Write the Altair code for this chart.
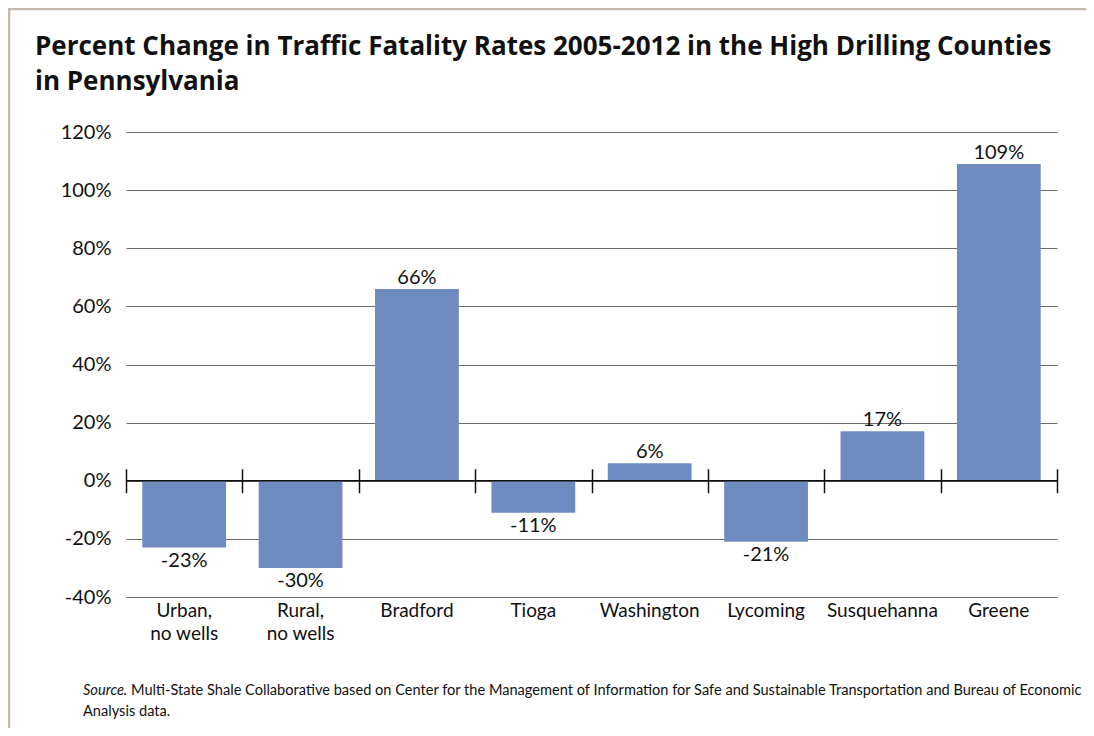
import altair as alt
import pandas as pd

categories = ["Urban,\nno wells", "Rural,\nno wells", "Bradford", "Tioga",
              "Washington", "Lycoming", "Susquehanna", "Greene"]
values = [-23, -30, 66, -11, 6, -21, 17, 109]
y_ticks = [-40, -20, 0, 20, 40, 60, 80, 100, 120]

title_lines = ["Percent Change in Traffic Fatality Rates 2005-2012 in the High Drilling Counties",
               "in Pennsylvania"]
source_lead = "Source."
source_lines = ["Multi-State Shale Collaborative based on Center for the Management of Information for Safe and Sustainable Transportation and Bureau of Economic",
                "Analysis data."]

df = pd.DataFrame({"cat": categories, "val": values})
df["label"] = df["val"].astype(str) + "%"

FONT = "Lato"
BAR = "#6E8BC0"
W, H = 931, 465
ZERO_FROM_BOTTOM = H * 40 / 160

xscale = alt.Scale(paddingInner=0.28, paddingOuter=0.14)
yscale = alt.Scale(domain=[-40, 120], nice=False, zero=False)

base = alt.Chart(df)

bars = base.mark_bar(color=BAR).encode(
    x=alt.X("cat:N", sort=categories, scale=xscale,
            axis=alt.Axis(title=None, labelExpr="split(datum.label, '\\n')",
                          ticks=False, domain=False, labelAngle=0,
                          labelFont=FONT, labelFontSize=19, labelColor="#111",
                          labelPadding=4, labelLineHeight=23, labelBaseline="top")),
    y=alt.Y("val:Q", scale=yscale,
            axis=alt.Axis(title=None, values=y_ticks, labelExpr="datum.value + '%'",
                          grid=True, gridColor="#6b6b6b", gridWidth=1,
                          domain=False, ticks=False, labelPadding=15,
                          labelFont=FONT, labelFontSize=20, labelColor="#111")),
)

tick_layer = base.mark_bar(opacity=0).encode(
    x=alt.X("cat:N", sort=categories,
            scale=alt.Scale(paddingInner=0, paddingOuter=0),
            axis=alt.Axis(title=None, orient="bottom", labels=False, domain=False,
                          ticks=True, tickBand="extent", tickSize=24,
                          tickColor="#111", tickWidth=1.5,
                          offset=-(ZERO_FROM_BOTTOM + 12))),
    y=alt.Y("val:Q", scale=yscale),
)

zero = alt.Chart(alt.Data(values=[{}])).mark_rule(color="#111", strokeWidth=1.6).encode(
    y=alt.datum(0)
)

text_x = alt.X("cat:N", sort=categories, axis=None,
               scale=alt.Scale(type="point", domain=categories, padding=0.5))

pos_text = base.transform_filter("datum.val >= 0").mark_text(
    baseline="alphabetic", dy=-5, font=FONT, fontSize=20, color="#111"
).encode(x=text_x, y="val:Q", text="label:N")

neg_text = base.transform_filter("datum.val < 0").mark_text(
    baseline="alphabetic", dy=19, font=FONT, fontSize=20, color="#111"
).encode(x=text_x, y="val:Q", text="label:N")

one = alt.Data(values=[{}])
TFONT = "Open Sans"
title1 = alt.Chart(one).mark_text(align="left", baseline="alphabetic", font=TFONT,
                                  fontSize=26, fontWeight="bold", color="#111").encode(
    x=alt.value(-91), y=alt.value(-77), text=alt.value(title_lines[0]))
title2 = alt.Chart(one).mark_text(align="left", baseline="alphabetic", font=TFONT,
                                  fontSize=26, fontWeight="bold", color="#111").encode(
    x=alt.value(-91), y=alt.value(-42), text=alt.value(title_lines[1]))

src0 = alt.Chart(one).mark_text(align="left", baseline="alphabetic", font=FONT,
                                fontSize=14.6, fontStyle="italic", color="#111").encode(
    x=alt.value(-43), y=alt.value(563), text=alt.value(source_lead))
src1 = alt.Chart(one).mark_text(align="left", baseline="alphabetic", font=FONT,
                                fontSize=14.6, color="#111").encode(
    x=alt.value(5), y=alt.value(563), text=alt.value(source_lines[0]))
src2 = alt.Chart(one).mark_text(align="left", baseline="alphabetic", font=FONT,
                                fontSize=14.6, color="#111").encode(
    x=alt.value(-43), y=alt.value(584), text=alt.value(source_lines[1]))

border_top = alt.Chart(one).mark_rule(color="#C5B9AE", strokeWidth=2.5).encode(
    x=alt.value(-118), x2=alt.value(970), y=alt.value(-123))
border_left = alt.Chart(one).mark_rule(color="#C5B9AE", strokeWidth=2.5).encode(
    x=alt.value(-117), y=alt.value(-124), y2=alt.value(610))

chart = alt.layer(
    bars, tick_layer, zero, pos_text, neg_text,
    title1, title2, src0, src1, src2, border_top, border_left
).resolve_axis(x="independent").resolve_scale(x="independent").properties(
    width=W, height=H,
    autosize=alt.AutoSizeParams(type="none"),
    padding={"left": 118, "top": 124, "right": 29, "bottom": 131},
    background="white",
).configure_view(strokeWidth=0)

chart.save("out.html", embed_options={"renderer": "svg", "actions": False})
